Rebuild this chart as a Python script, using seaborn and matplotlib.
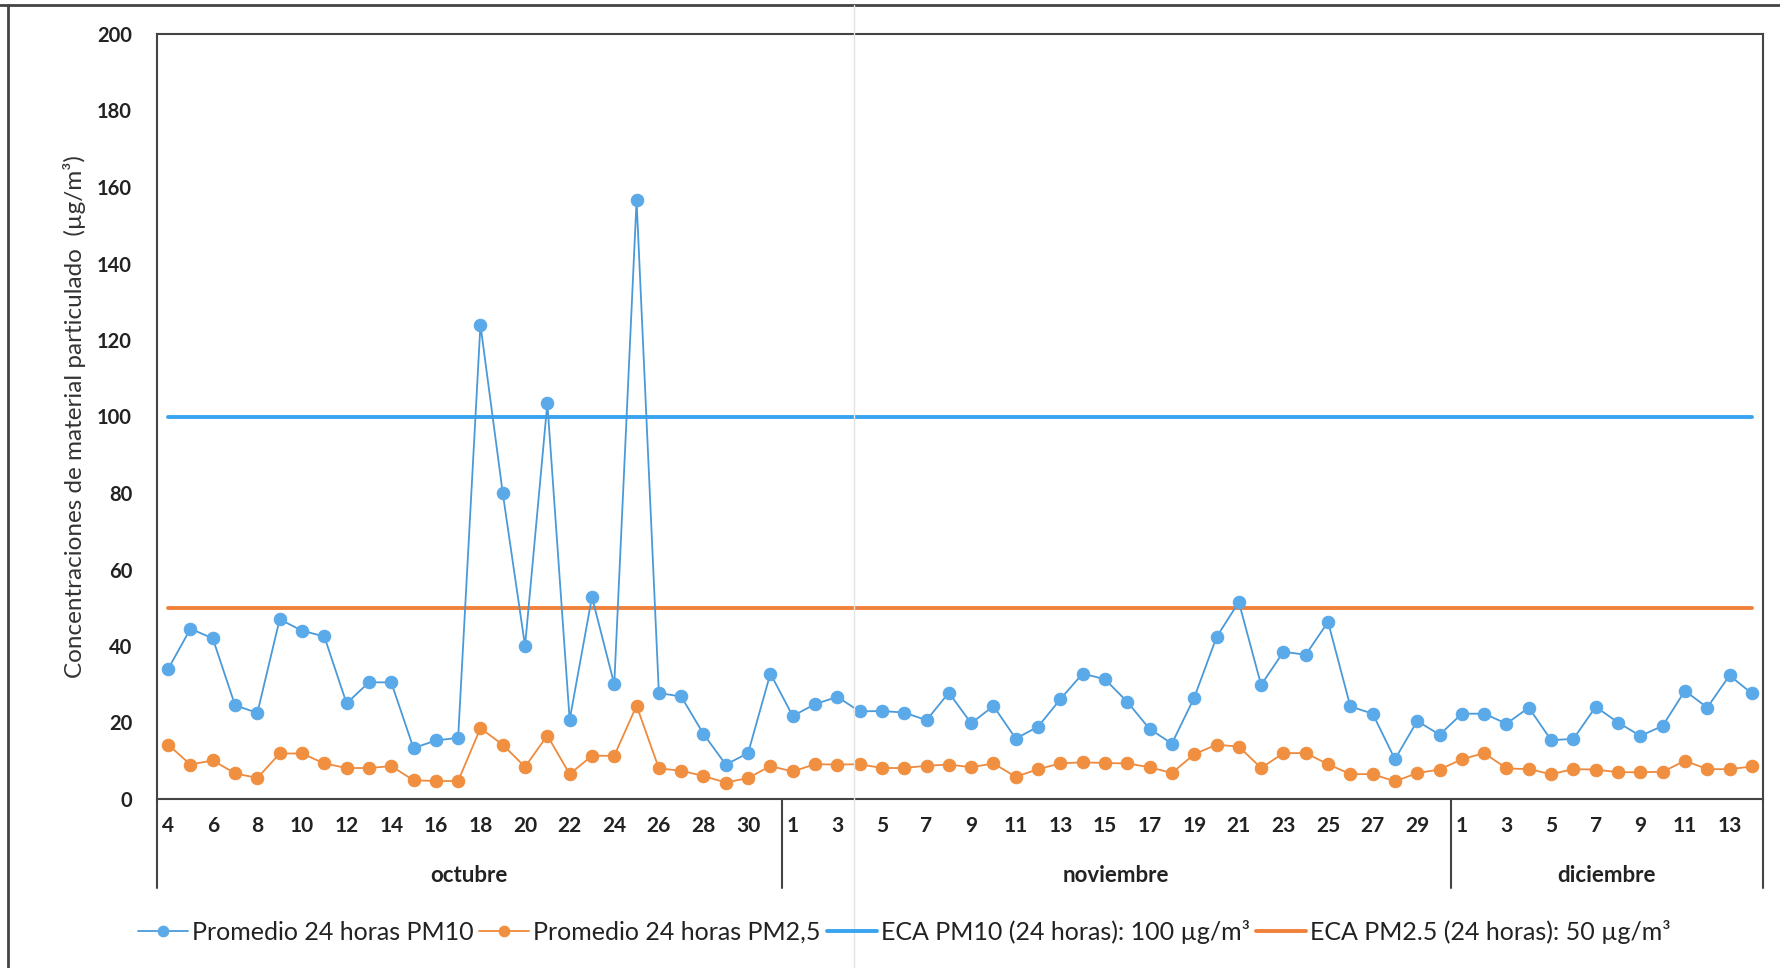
import numpy as np
import pandas as pd
import matplotlib
matplotlib.use("Agg")
import matplotlib.pyplot as plt
import matplotlib.transforms as mtransforms
from matplotlib.lines import Line2D
import seaborn as sns

sns.set_theme(style="white")
plt.rcParams['font.family'] = ['Lato', 'DejaVu Sans']

# ---------------- data ----------------
months = ["octubre", "noviembre", "diciembre"]
oct_days = list(range(4, 32))
nov_days = list(range(1, 31))
dic_days = list(range(1, 15))

pm10 = [34, 44.5, 42, 24.5, 22.5, 47, 44, 42.5, 25, 30.5, 30.5, 13.3, 15.3, 16,
        124, 80, 40, 103.5, 20.7, 52.8, 30, 156.5, 27.7, 26.8, 17, 9, 12, 32.8,
        21.7, 24.8, 26.7, 22.9, 23, 22.6, 20.6, 27.8, 19.8, 24.3, 15.8, 18.9, 26.1, 32.8, 31.3,
        25.4, 18.3, 14.5, 26.5, 42.3, 51.5, 29.8, 38.5, 37.7, 46.3, 24.2, 22.3, 10.4, 20.4, 16.8,
        22.3, 22.3, 19.7, 23.9, 15.4, 15.7, 24.1, 20, 16.5, 19.1, 28.3, 23.9, 32.3, 27.6]
pm25 = [14.2, 9, 10.1, 6.7, 5.5, 11.9, 11.9, 9.3, 8.1, 8.1, 8.6, 4.9, 4.7, 4.7,
        18.5, 14.2, 8.4, 16.6, 6.5, 11.3, 11.3, 24.4, 8, 7.4, 6, 4.3, 5.5, 8.6,
        7.2, 9.1, 9, 9.1, 8.1, 8.1, 8.7, 9, 8.3, 9.3, 5.8, 7.8, 9.3, 9.6, 9.4,
        9.3, 8.3, 6.8, 11.7, 14.2, 13.7, 8.1, 12, 12, 9.1, 6.5, 6.5, 4.6, 6.8, 7.7,
        10.4, 12, 8, 7.8, 6.5, 7.8, 7.7, 7, 7, 7.1, 10, 7.8, 7.8, 8.5]
eca_pm10 = 100
eca_pm25 = 50

labels = ["Promedio 24 horas PM10", "Promedio 24 horas PM2,5",
          "ECA PM10 (24 horas): 100 µg/m³", "ECA PM2.5 (24 horas): 50 µg/m³"]

month_days = [oct_days, nov_days, dic_days]
days = [d for m in month_days for d in m]
n = len(days)
pos = np.arange(n)

df = pd.DataFrame({"pos": pos, "pm10": pm10, "pm25": pm25,
                   "eca10": [eca_pm10] * n, "eca25": [eca_pm25] * n})

# ---------------- figure ----------------
fig = plt.figure(figsize=(17.8, 9.68), dpi=100)
ax = fig.add_axes([157 / 1780, 1 - 799 / 968, (1763 - 157) / 1780, (799 - 34) / 968])

c_blue_line = "#4A9AD9"
c_blue_mk = "#5AA9E8"
c_orange_line = "#EE8A3E"
c_orange_mk = "#F08F40"
c_eca10 = "#3AA4F0"
c_eca25 = "#F0813A"

sns.lineplot(data=df, x="pos", y="eca10", ax=ax, color=c_eca10, lw=2.8, label=labels[2], zorder=2)
sns.lineplot(data=df, x="pos", y="eca25", ax=ax, color=c_eca25, lw=2.8, label=labels[3], zorder=2)
sns.lineplot(data=df, x="pos", y="pm10", ax=ax, color=c_blue_line, lw=1.3, marker="o",
             markersize=9, markerfacecolor=c_blue_mk, markeredgecolor=c_blue_mk,
             label=labels[0], zorder=3)
sns.lineplot(data=df, x="pos", y="pm25", ax=ax, color=c_orange_line, lw=1.3, marker="o",
             markersize=9, markerfacecolor=c_orange_mk, markeredgecolor=c_orange_mk,
             label=labels[1], zorder=3)

ax.set_xlim(-0.5, n - 0.5)
ax.set_ylim(0, 200)
ax.set_yticks(np.arange(0, 201, 20))
ax.set_yticklabels([str(v) for v in range(0, 201, 20)], fontsize=14.5, fontweight="bold", color="#222222")
ax.tick_params(axis="y", length=0, pad=18)

ticklabels = []
for m in month_days:
    for i, d in enumerate(m):
        ticklabels.append(str(d) if i % 2 == 0 else "")
ax.set_xticks(pos)
ax.set_xticklabels(ticklabels, fontsize=15, fontweight="bold", color="#222222")
ax.tick_params(axis="x", length=0, pad=12)
ax.set_xlabel("")
ax.set_ylabel("Concentraciones de material particulado  (µg/m³)", fontsize=17.5, color="#333333")
ax.yaxis.set_label_coords(-0.0445, 0.5)

for s in ax.spines.values():
    s.set_color("#444444")
    s.set_linewidth(1.5)

# month grouping lines and labels
trans = mtransforms.blended_transform_factory(ax.transData, ax.transAxes)
bounds = [-0.5]
start = 0
for m in month_days:
    start += len(m)
    bounds.append(start - 0.5)
for b in bounds:
    ax.add_line(Line2D([b, b], [0, -0.116], transform=trans, color="#444444", lw=1.5, clip_on=False))
for i, name in enumerate(months):
    ax.text((bounds[i] + bounds[i + 1]) / 2, -0.1, name, transform=trans, ha="center", va="center",
            fontsize=16, fontweight="bold", color="#222222")

ax.get_legend().remove()
handles, labs = ax.get_legend_handles_labels()
order = [labs.index(l) for l in labels]
fig.legend([handles[i] for i in order], [labs[i] for i in order], loc="center",
           bbox_to_anchor=(904 / 1780, 1 - 932 / 968), ncol=4, frameon=False, fontsize=18,
           handlelength=2.0, handletextpad=0.15, columnspacing=0.25, labelcolor="#222222",
           markerscale=0.85)

# outer frame and scan line
fig.add_artist(Line2D([0, 1], [1 - 5 / 968, 1 - 5 / 968], transform=fig.transFigure, color="#444444", lw=2))
fig.add_artist(Line2D([8 / 1780, 8 / 1780], [0, 1 - 5 / 968], transform=fig.transFigure, color="#444444", lw=2))
fig.add_artist(Line2D([854 / 1780, 854 / 1780], [0, 1 - 5 / 968], transform=fig.transFigure, color="#e4e4e4", lw=1))

fig.savefig("out.png", dpi=100)
